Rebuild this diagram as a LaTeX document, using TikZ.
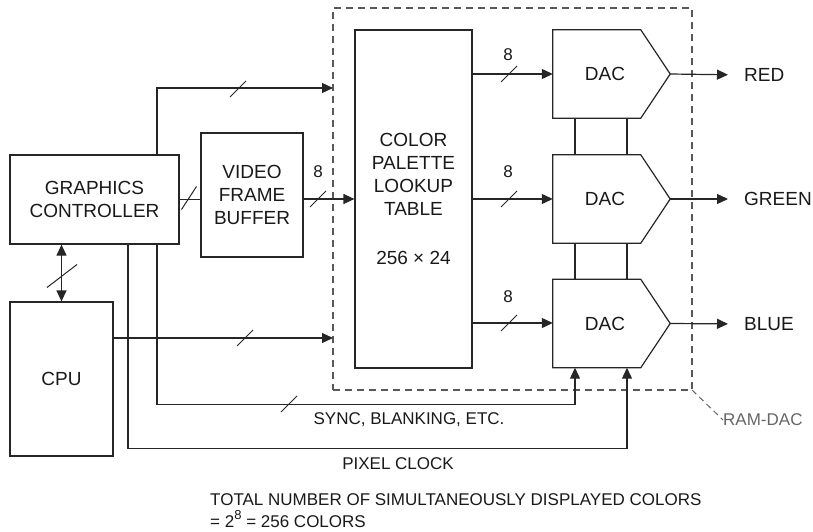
\documentclass[tikz,border=0pt]{standalone}
\usepackage{fontspec}
\setmainfont{Liberation Sans}
\usetikzlibrary{arrows.meta,calc}
\newcommand\dacshape[1]{\draw[ln] (#1.north west) -- ([xshift=88pt]#1.north west) -- (#1.east) -- ([xshift=88pt]#1.south west) -- (#1.south west) -- cycle;}
\begin{document}
\begin{tikzpicture}[x=1pt,y=-1pt,
  ln/.style={draw=black!85, line width=1.2pt},
  box/.style={draw=black!85, line width=1.2pt, align=center, inner sep=0pt, font=\fontsize{19}{23}\selectfont, text=black!90},
  txt/.style={align=center, inner sep=0pt, font=\fontsize{19}{23}\selectfont, text=black!90},
  lbl/.style={font=\fontsize{17}{22}\selectfont, text=black!90, inner sep=0pt},
  arr/.style={draw=black!85, line width=1.2pt, -{Triangle[length=11pt,width=10pt]}},
  darr/.style={draw=black!85, line width=1.2pt, {Triangle[length=11pt,width=10pt]}-{Triangle[length=11pt,width=10pt]}},
  sl/.style={draw=black!85, line width=1pt},
  ramstyle/.style={draw=black!65, dash pattern=on 7pt off 5pt, line width=1.3pt, inner sep=0pt, outer sep=0pt},
  dacbox/.style={minimum width=117pt, minimum height=88pt, inner sep=0pt}
]
\useasboundingbox (0,0) rectangle (813,532);

% RAM-DAC dashed boundary
\node[ramstyle, minimum width=359pt, minimum height=382pt] (ramdac) at (512.5,199) {};

% boxes
\node[box, minimum width=169pt, minimum height=89pt] (gc) at (94.5,199.5) {GRAPHICS\\CONTROLLER};
\node[box, minimum width=102pt, minimum height=124pt] (vfb) at (252,195) {VIDEO\\FRAME\\BUFFER};
\node[box, minimum width=103pt, minimum height=154pt] (cpu) at (61.5,379) {CPU};
\node[box, minimum width=117pt, minimum height=338pt] (pal) at (413.5,199) {COLOR\\PALETTE\\LOOKUP\\TABLE\\[26pt]256 × 24};

% DACs
\node[dacbox] (dacR) at (611.5,74) {};
\node[dacbox] (dacG) at (611.5,199) {};
\node[dacbox] (dacB) at (611.5,323.5) {};
\dacshape{dacR}
\dacshape{dacG}
\dacshape{dacB}
\node[txt] at (605,74) {DAC};
\node[txt] at (605,199) {DAC};
\node[txt] at (605,323.5) {DAC};

% DAC interconnects
\draw[ln] ([xshift=-36.5pt]dacR.south) -- ([xshift=-36.5pt]dacG.north);
\draw[ln] ([xshift=15.5pt]dacR.south) -- ([xshift=15.5pt]dacG.north);
\draw[ln] ([xshift=-36.5pt]dacG.south) -- ([xshift=-36.5pt]dacB.north);
\draw[ln] ([xshift=15.5pt]dacG.south) -- ([xshift=15.5pt]dacB.north);

% outputs
\node[txt, anchor=west] (red) at (744,75) {RED};
\node[txt, anchor=west] (green) at (744,199) {GREEN};
\node[txt, anchor=west] (blue) at (744,324) {BLUE};
\draw[arr, shorten >=16pt] (dacR.east) -- (red.west);
\draw[arr, shorten >=16pt] (dacG.east) -- (green.west);
\draw[arr, shorten >=16pt] (dacB.east) -- (blue.west);

% palette -> DACs
\draw[arr] (pal.east |- dacR.west) -- (dacR.west);
\draw[arr] (pal.east |- dacG.west) -- (dacG.west);
\draw[arr] (pal.east |- 0,323) -- (dacB.west |- 0,323);
\node[lbl] at (508,55) {8};
\node[lbl] at (508,172) {8};
\node[lbl] at (508,297) {8};
\draw[sl] (509,74) +(-8,8) -- +(8,-8);
\draw[sl] (509,199) +(-8,8) -- +(8,-8);
\draw[sl] (509,323) +(-8,8) -- +(8,-8);

% GC -> VFB -> palette
\draw[ln] (gc.east) -- (gc.east -| vfb.west);
\draw[sl] (189,198) +(-7.5,11.5) -- +(7.5,-11.5);
\draw[arr] (vfb.east |- pal.west) -- (pal.west);
\draw[sl] (318,199) +(-8,8) -- +(8,-8);
\node[lbl] at (318,172) {8};

% GC top -> RAM-DAC
\draw[arr] ([xshift=62.5pt]gc.north) |- (ramdac.west |- 0,88);
\draw[sl] (238,89) +(-8,8) -- +(8,-8);

% CPU <-> GC
\draw[darr] (gc.south -| cpu.north) -- (cpu.north);
\draw[sl] (62,276) +(-15,11.5) -- +(15,-11.5);

% CPU -> RAM-DAC
\draw[arr] (cpu.east |- 0,338) -- (ramdac.west |- 0,338);
\draw[sl] (245,338) +(-8,8) -- +(8,-8);

% sync, blanking
\draw[arr] ([xshift=62.5pt]gc.south) -- ++(0,160) -| ([xshift=-36.5pt]dacB.south);
\draw[sl] (289,404) +(-8,8) -- +(8,-8);
\node[lbl] at (409,420) {SYNC, BLANKING, ETC.};

% pixel clock
\draw[arr] ([xshift=33.5pt]gc.south) -- ++(0,204) -| ([xshift=15.5pt]dacB.south);
\node[lbl] at (398,464) {PIXEL CLOCK};

% RAM-DAC label
\node[lbl, text=black!60, anchor=west] (ramlbl) at (723,420) {RAM-DAC};
\draw[black!60, line width=1pt, dash pattern=on 6pt off 4pt] (ramdac.south east) -- (ramlbl.west);

% footnote
\node[lbl, anchor=base west, align=left] at (210,527) {TOTAL NUMBER OF SIMULTANEOUSLY DISPLAYED COLORS\\= 2\raisebox{0.45em}{\fontsize{13}{13}\selectfont 8} = 256 COLORS};
\end{tikzpicture}
\end{document}
